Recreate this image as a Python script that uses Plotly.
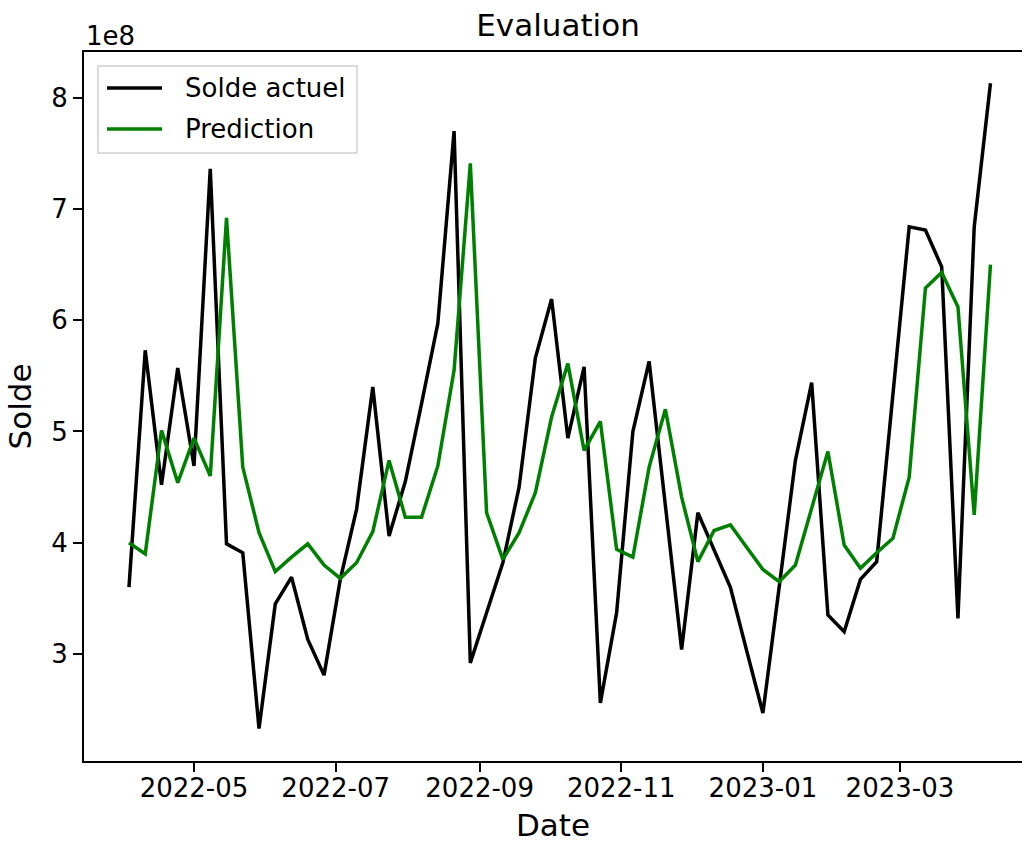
import pandas as pd
import plotly.graph_objects as go

# weekly dates (sundays)
dates = pd.date_range("2022-04-03", periods=54, freq="7D")

# values, in units of 1e8
solde_actuel = [3.60, 5.73, 4.52, 5.57, 4.69, 7.36, 3.99, 3.91, 2.33, 3.45,
                3.69, 3.13, 2.81, 3.67, 4.30, 5.40, 4.06, 4.55, 5.25, 5.97,
                7.70, 2.92, 3.37, 3.82, 4.50, 5.66, 6.19, 4.94, 5.58, 2.56,
                3.37, 5.00, 5.63, 4.33, 3.04, 4.27, 3.94, 3.60, 3.03, 2.47,
                3.60, 4.74, 5.44, 3.35, 3.20, 3.67, 3.83, 5.33, 6.84, 6.81,
                6.48, 3.32, 6.84, 8.13]
prediction = [4.00, 3.90, 5.01, 4.54, 4.94, 4.60, 6.92, 4.68, 4.09, 3.74,
              3.87, 3.99, 3.80, 3.68, 3.82, 4.10, 4.74, 4.23, 4.23, 4.69,
              5.55, 7.41, 4.27, 3.85, 4.09, 4.45, 5.13, 5.61, 4.83, 5.09,
              3.94, 3.87, 4.68, 5.20, 4.41, 3.83, 4.11, 4.16, 3.96, 3.76,
              3.65, 3.80, 4.31, 4.82, 3.98, 3.77, 3.91, 4.04, 4.59, 6.29,
              6.43, 6.12, 4.25, 6.50]

y_ticks = [3, 4, 5, 6, 7, 8]
series_names = ["Solde actuel", "Prediction"]
series_colors = ["black", "green"]

FONT = "DejaVu Sans"
LW = 3.5

fig = go.Figure()
for name, vals, col in zip(series_names, [solde_actuel, prediction], series_colors):
    fig.add_trace(go.Scatter(x=dates, y=vals, mode="lines", name=name,
                             line=dict(color=col, width=LW), showlegend=False))

fig.update_layout(
    width=1022, height=843,
    margin=dict(l=84, r=0, t=52, b=82),
    plot_bgcolor="white", paper_bgcolor="white",
    font=dict(family=FONT, size=26, color="black"),
    title=dict(text="Evaluation", x=0.546, xref="container", xanchor="center",
               y=1, yref="paper", yanchor="bottom", pad=dict(b=16),
               font=dict(size=31, color="black")),
)

fig.update_xaxes(
    range=["2022-03-14 15:00", "2023-04-22 14:00"],
    tickformat="%Y-%m", dtick="M2", tick0="2022-01-01",
    showgrid=False, zeroline=False,
    showline=True, linecolor="black", linewidth=2, mirror=True,
    ticks="outside", ticklen=9, tickwidth=2, tickcolor="black",
    ticklabelstandoff=-6,
    title=dict(text="Date", standoff=19),
)
fig.update_yaxes(
    range=[2.038, 8.411],
    tickvals=y_ticks, ticktext=[str(t) for t in y_ticks],
    showgrid=False, zeroline=False,
    showline=True, linecolor="black", linewidth=2,
    ticks="outside", ticklen=9, tickwidth=2, tickcolor="black",
    title=dict(text="Solde", standoff=10),
)

# scale factor shown above the y axis
fig.add_annotation(text="1e8", x=0, y=1, xref="paper", yref="paper",
                   xanchor="left", yanchor="bottom", showarrow=False,
                   font=dict(size=26), yshift=-1)

# legend box drawn like matplotlib's (longer handles)
fig.add_shape(type="rect", xref="paper", yref="paper",
              x0=0.0149, x1=0.2910, y0=0.8576, y1=0.9803,
              line=dict(color="#d0d0d0", width=1.5), fillcolor="white", layer="above")
for i, (name, col) in enumerate(zip(series_names, series_colors)):
    yy = 0.9492 - i * 0.0578
    fig.add_shape(type="line", xref="paper", yref="paper",
                  x0=0.0245, x1=0.0832, y0=yy, y1=yy,
                  line=dict(color=col, width=LW), layer="above")
    fig.add_annotation(text=name, x=0.1055, y=yy, xref="paper", yref="paper",
                       xanchor="left", yanchor="middle", showarrow=False,
                       font=dict(size=26))

fig.write_html("out.html", config={"displayModeBar": False},
               post_script="document.body.style.margin='0';")
